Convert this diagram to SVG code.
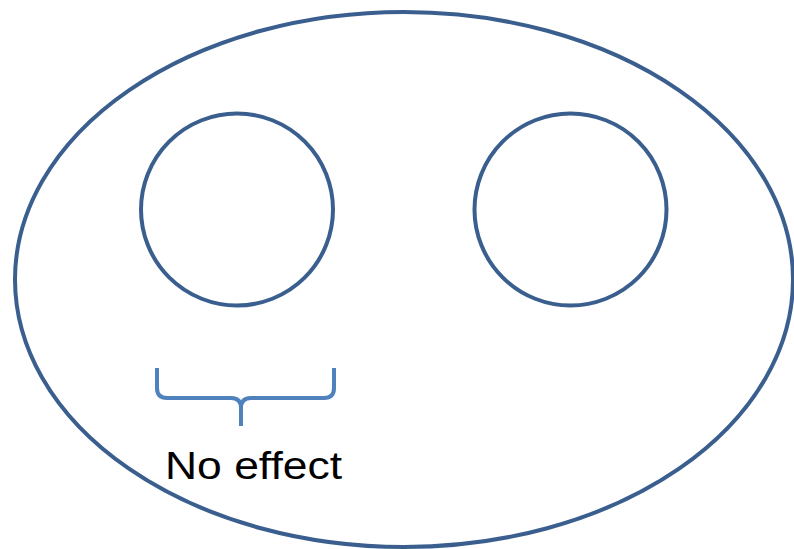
<svg xmlns="http://www.w3.org/2000/svg" width="794" height="549" viewBox="0 0 794 549">
<style>
.shape{fill:none;stroke:#3a5f8e;stroke-width:4}
.brace{fill:none;stroke:#4f81bd;stroke-width:4;stroke-linejoin:round}
.label{font-family:"Liberation Sans",Arial,sans-serif;font-size:39px;fill:#000}
</style>
<rect width="794" height="549" fill="#fff"/>
<g id="outer"><ellipse class="shape" cx="404" cy="279.5" rx="389" ry="267.5"/></g>
<g id="circle-left"><circle class="shape" cx="237" cy="209.5" r="96"/></g>
<g id="circle-right"><circle class="shape" cx="570.5" cy="209.5" r="96"/></g>
<g id="brace"><path class="brace" d="M157,368 L157,388 Q157,398 167,398 L231,398 Q241,398 241,408 L241,426 M241,408 Q241,398 251,398 L324,398 Q334,398 334,388 L334,368"/></g>
<g id="label"><text class="label" x="165" y="479" textLength="177" lengthAdjust="spacingAndGlyphs">No effect</text></g>
</svg>
